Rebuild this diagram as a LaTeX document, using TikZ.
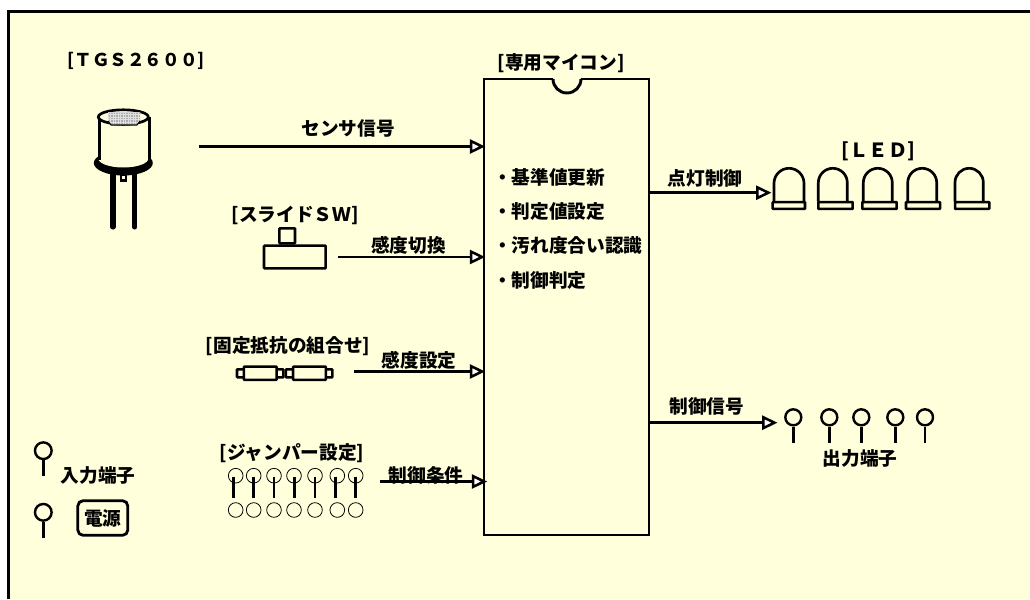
\documentclass[tikz,border=0pt]{standalone}
\usepackage{fontspec}
\setmainfont{Noto Sans CJK JP}[BoldFont=* Black]
\usetikzlibrary{arrows.meta}
\definecolor{bgc}{HTML}{FFFFDC}
\tikzset{
  x=0.75pt,y=-0.75pt,
  lbl/.style={font=\fontsize{14pt}{16pt}\bfseries\selectfont,inner sep=0pt,text=black},
  thick1/.style={line width=2pt,draw=black},
  sig/.style={line width=1.9pt,draw=black,-{Triangle[open,fill=white,length=11.5pt,width=10.5pt,line width=1.9pt]},shorten >=-2pt},
  pin/.style={circle,draw=black,line width=1.8pt,fill=bgc,minimum size=12.5pt,inner sep=0pt},
  pad/.style={circle,draw=black,line width=0.6pt,minimum size=11pt,inner sep=0pt},
  part/.style={draw=black,line width=1.9pt,fill=bgc,inner sep=0pt,rounded corners=0.5pt},
}
\begin{document}
\begin{tikzpicture}
\useasboundingbox (0,0) rectangle (1030,599);
\fill[white] (0,0) rectangle (1030,599);
\fill[bgc] (8.5,11.5) rectangle (1030,599);
\draw[line width=2.3pt,line cap=butt] (8.5,599) -- (8.5,11.5) -- (1030,11.5);

% chip
\node[draw=black,line width=2.2pt,minimum width=123.75pt,minimum height=342pt,inner sep=0pt] (chip) at (566.5,307) {};
\fill[bgc] (553,76) rectangle (581,82);
\draw[line width=2.2pt] (553,79) arc[start angle=180,end angle=0,radius=14];
\node[lbl] (chipt) at (561,63) {[専用マイコン]};
\node[lbl,anchor=west] (f1) at (493,177) {・基準値更新};
\node[lbl,anchor=west] (f2) at (493,211) {・判定値設定};
\node[lbl,anchor=west] (f3) at (493,245) {・汚れ度合い認識};
\node[lbl,anchor=west] (f4) at (493,280) {・制御判定};

% sensor
\node[lbl,font=\fontsize{13.2pt}{16pt}\bfseries\selectfont] (tgst) at (136,61) {[ＴＧＳ２６００]};
\draw[line width=3.8pt,line cap=round] (113,170) -- (113,227);
\draw[line width=3.8pt,line cap=round] (134.7,170) -- (134.7,227);
\fill (119.5,172) rectangle (127,182);
\fill[bgc] (122,176) rectangle (124.5,179);
\fill[black] (123.3,163) ellipse[x radius=29.5,y radius=12.5];
\fill[bgc] (123.3,158.5) ellipse[x radius=25,y radius=9];
\fill[bgc] (99,117) rectangle (149.5,158.5);
\draw[line width=2.4pt] (99.3,117) -- (99.3,160);
\draw[line width=2.4pt] (149.3,117) -- (149.3,160);
\draw[line width=2pt,fill=bgc] (123.3,117) ellipse[x radius=25,y radius=7.2];
\begin{scope}
\path[clip] (108,112.5) -- (140,112.5) -- (140,121) -- (137,125) -- (111,125) -- (108,121) -- cycle;
\fill[gray!65] (106,110) rectangle (142,127);
\foreach \i in {108,110.5,...,141}{\draw[gray!25,line width=0.3pt] (\i,110)--(\i,127);}
\foreach \i in {112,114.5,...,127}{\draw[gray!25,line width=0.3pt] (106,\i)--(142,\i);}
\end{scope}
\draw[line width=0.8pt] (108,121) -- (111,125) -- (137,125) -- (140,121);
\coordinate (s1) at (199,146.5);
\draw[sig] (s1) -- (s1 -| chip.west);
\node[lbl] (l1) at (348,128) {センサ信号};

% slide switch
\node[lbl] (swt) at (295,215.5) {[スライドＳＷ]};
\node[part,minimum width=11.7pt,minimum height=11.2pt] (knob) at (287.2,235.8) {};
\node[part,minimum width=46.2pt,minimum height=17pt] (sw) at (294.8,257) {};
\coordinate (s2) at (338,257);
\draw[sig] (s2) -- (s2 -| chip.west);
\node[lbl] (l2) at (408.5,245) {感度切換};

% resistors
\node[lbl] (rt) at (288,346.5) {[固定抵抗の組合せ]};
\node[part,minimum width=6pt,minimum height=6pt] (ra1) at (241,373.3) {};
\node[part,minimum width=5pt,minimum height=6pt] (ra2) at (280,373.3) {};
\node[part,minimum width=5.5pt,minimum height=6pt] (rb1) at (289.5,373.3) {};
\node[part,minimum width=5pt,minimum height=6pt] (rb2) at (329,373.3) {};
\node[part,minimum width=24.5pt,minimum height=10pt] (ra) at (260.3,373.3) {};
\node[part,minimum width=24.5pt,minimum height=10pt] (rb) at (309.5,373.3) {};
\coordinate (s3) at (354,371.5);
\draw[sig] (s3) -- (s3 -| chip.west);
\node[lbl] (l3) at (419,360) {感度設定};

% jumper
\node[lbl] (jt) at (292,453.5) {[ジャンパー設定]};
\foreach \n/\x/\sx in {1/235.7/233.3,2/253.7/253.7,3/274/274,4/294/294.3,5/315/315,6/337.3/335.3,7/355.7/355.7}{
  \node[pad] (jt\n) at (\x,475.7) {};
  \node[pad] (jb\n) at (\x,510) {};
  \coordinate (ja\n) at (\sx,476.7);
  \coordinate (jc\n) at (\sx,497.7);
  \draw[line width=1.9pt] (ja\n) -- (jc\n);
}
\coordinate (s4) at (380,481.5);
\coordinate (e4) at (chip.west |- s4);
\draw[sig,shorten >=-3.5pt] (s4) -- (e4);
\node[lbl] (l4) at (426,475) {制御条件};

% terminal legend
\node[pin] (p1) at (43.3,450.7) {};
\coordinate (p1e) at (43.3,476);
\draw[thick1] (p1) -- (p1e);
\node[lbl] (tl1) at (98.3,475) {入力端子};
\node[pin] (p2) at (43.3,512.3) {};
\coordinate (p2e) at (43.3,537.5);
\draw[thick1] (p2) -- (p2e);
\node[draw=black,line width=2.1pt,rounded corners=4pt,minimum width=37.5pt,minimum height=26pt,inner sep=0pt,lbl] (pw) at (102.8,518) {電源};

% LED
\node[lbl,font=\fontsize{14.6pt}{16pt}\bfseries\selectfont] (ledt) at (878.5,151) {[ＬＥＤ]};
\foreach \n/\l/\r/\bl/\br in {1/774/804/772.7/805,2/818.3/847.3/818.3/852.7,3/863.3/892.3/862.3/896.7,4/907.7/936.7/906/940,5/955/983.3/955/989.3}{
  \pgfmathsetmacro{\rad}{(\r-\l)/2}
  \draw[line width=2pt] (\l,201.7) -- (\l,168.3+\rad) arc[start angle=180,end angle=360,radius=\rad] -- (\r,201.7);
  \pgfmathsetmacro{\bx}{(\bl+\br)/2}
  \pgfmathsetmacro{\bw}{(\br-\bl)*0.75}
  \node[part,minimum width=\bw pt,minimum height=5.2pt] (led\n) at (\bx,205.5) {};
}
\coordinate (o1) at (chip.east |- 0,192.7);
\draw[sig,shorten >=0pt] (o1) -- (led1.west |- o1);
\node[lbl] (l5) at (705,178) {点灯制御};

% outputs
\foreach \n/\x in {1/793.3,2/829.3,3/861.3,4/895.3,5/925}{
  \node[pin,minimum size=12pt] (q\n) at (\x,417.3) {};
  \coordinate (qe\n) at (\x,442.7);
  \draw[thick1] (q\n) -- (qe\n);
}
\coordinate (o2) at (chip.east |- 0,422.7);
\coordinate (o2e) at (777.5,422.7);
\draw[sig,shorten >=0pt] (o2) -- (o2e);
\node[lbl] (l6) at (706.7,406) {制御信号};
\node[lbl] (ot) at (860,458) {出力端子};
\end{tikzpicture}
\end{document}
